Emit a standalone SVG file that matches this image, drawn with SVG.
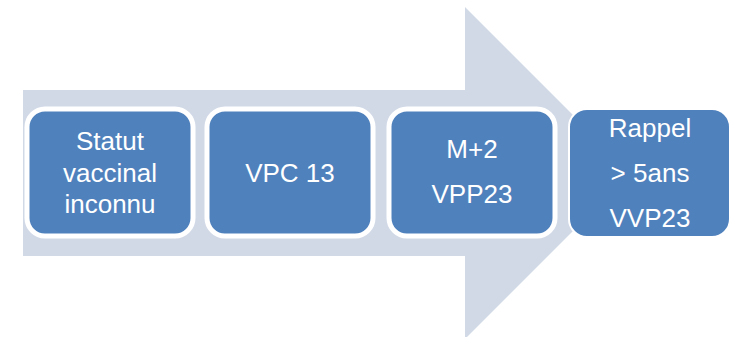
<svg xmlns="http://www.w3.org/2000/svg" width="731" height="337" viewBox="0 0 731 337">
<style>
.box{fill:#4f81bd;stroke:#ffffff;stroke-width:5}
.lbl{font-family:"Liberation Sans",Arial,sans-serif;font-size:26px;fill:#ffffff;text-anchor:middle}
</style>
<rect width="731" height="337" fill="#ffffff"/>
<g id="arrow">
<polygon points="23,90 465,90 465,7 631,173 465,339 465,256 23,256" fill="#d1d9e7"/>
</g>
<g id="node1">
<rect class="box" x="27" y="109" width="166" height="127" rx="18"/>
<text class="lbl" x="110" y="150">Statut</text>
<text class="lbl" x="110" y="182">vaccinal</text>
<text class="lbl" x="110" y="213">inconnu</text>
</g>
<g id="node2">
<rect class="box" x="207" y="109" width="166" height="127" rx="18"/>
<text class="lbl" x="290" y="182">VPC 13</text>
</g>
<g id="node3">
<rect class="box" x="389" y="109" width="166" height="127" rx="18"/>
<text class="lbl" x="472" y="158">M+2</text>
<text class="lbl" x="472" y="203">VPP23</text>
</g>
<g id="node4">
<rect class="box" x="569" y="109" width="161" height="128" rx="18" style="stroke-width:2"/>
<text class="lbl" x="650" y="137">Rappel</text>
<text class="lbl" x="650" y="182">&gt; 5ans</text>
<text class="lbl" x="650" y="227">VVP23</text>
</g>
</svg>
